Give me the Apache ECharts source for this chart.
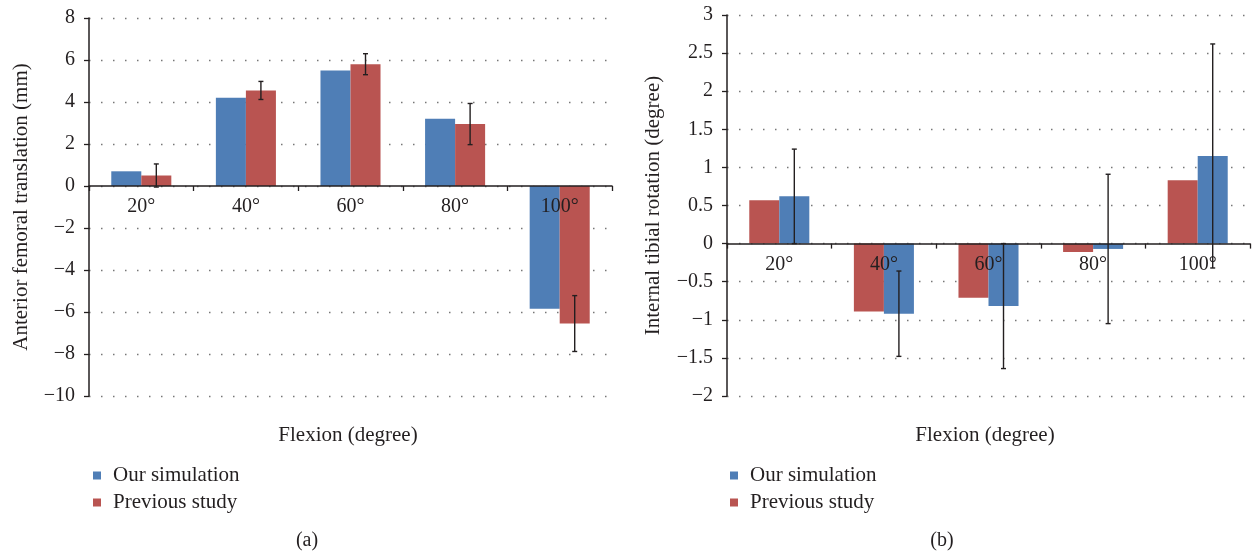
<!DOCTYPE html>
<html><head><meta charset="utf-8">
<script src="https://cdn.jsdelivr.net/npm/echarts@6/dist/echarts.min.js"></script>
<style>html,body{margin:0;padding:0;background:#fff}#c{width:1253px;height:554px}</style>
</head><body><div id="c"></div>
<script>
const categories = ['20°','40°','60°','80°','100°'];
// (a) Anterior femoral translation (mm)
const leftSim = [0.7, 4.2, 5.5, 3.2, -5.85];
const leftPrev = [0.5, 4.55, 5.8, 2.95, -6.55];
const leftPrevErr = [0.55, 0.43, 0.5, 0.98, 1.33];
const leftTicks = [-10, -8, -6, -4, -2, 0, 2, 4, 6, 8];
// (b) Internal tibial rotation (degree)
const rightPrev = [0.57, -0.89, -0.71, -0.11, 0.83];
const rightSim = [0.62, -0.92, -0.82, -0.07, 1.15];
const rightSimErr = [0.62, 0.56, 0.82, 0.98, 1.47];
const rightTicks = [-2, -1.5, -1, -0.5, 0, 0.5, 1, 1.5, 2, 2.5, 3];

const BLUE = '#4f7eb6', RED = '#b95451';
const FONT = 'Liberation Serif';
const TXT = '#231f20';
const BWF = 0.287;

const grids = [
  {left:89, top:18, width:523, height:378},
  {left:727, top:15, width:523, height:381}
];

const chart = echarts.init(document.getElementById('c'), null, {renderer:'canvas'});

function fmt(v){ return String(v).replace('-', '\u2212'); }

function yAxis(idx, ticks, name, gap){
  return {
    gridIndex: idx, type:'value',
    min: ticks[0], max: ticks[ticks.length-1], interval: ticks[1]-ticks[0],
    name: name, nameLocation:'middle', nameGap: gap,
    nameTextStyle:{fontFamily:FONT, fontSize:21, color:TXT},
    axisLine:{show:true, lineStyle:{color:'#231f20', width:1.5}},
    axisTick:{show:true, length:5, lineStyle:{color:'#231f20', width:1.3}},
    axisLabel:{fontFamily:FONT, fontSize:20, color:TXT, margin:14, formatter: fmt},
    splitLine:{show:true, lineStyle:{type:[1.5,10.5], color:'#777', width:1.3}}
  };
}
function xAxis(idx, ticks){
  // place the category axis at value 0 of the value axis
  const lo = ticks[0], hi = ticks[ticks.length-1];
  const off = -grids[idx].height * (0 - lo) / (hi - lo);
  return {
    gridIndex: idx, type:'category', data: categories, z: 4,
    position:'bottom', offset: off,
    axisLine:{show:true, onZero:false, lineStyle:{color:'#231f20', width:1.5}},
    axisTick:{show:true, length:5, inside:false, lineStyle:{color:'#231f20', width:1.3}},
    axisLabel:{fontFamily:FONT, fontSize:20, color:TXT, margin:11},
    splitLine:{show:false}
  };
}
function errSeries(xi, vals, errs){
  return {
    type:'custom', name:'err'+xi, xAxisIndex: xi, yAxisIndex: xi, z: 6,
    data: categories.map((c,i)=>[i, vals[i], errs[i]]),
    renderItem: function(params, api){
      const i = api.value(0), v = api.value(1), e = api.value(2);
      const band = api.size([1,0])[0];
      const off = band*BWF/2;
      const t = api.coord([i, v+e]), b = api.coord([i, v-e]);
      const x = t[0] + off, cap = 2.5;
      const st = {stroke:'#231f20', lineWidth:1.4};
      return {type:'group', children:[
        {type:'line', shape:{x1:x, y1:t[1], x2:x, y2:b[1]}, style:st},
        {type:'line', shape:{x1:x-cap, y1:t[1], x2:x+cap, y2:t[1]}, style:st},
        {type:'line', shape:{x1:x-cap, y1:b[1], x2:x+cap, y2:b[1]}, style:st}
      ]};
    }
  };
}
function bar(xi, name, vals, color){
  return {type:'bar', name:name, xAxisIndex:xi, yAxisIndex:xi, data: vals,
    barWidth: (BWF*100)+'%', barGap:'0%', itemStyle:{color:color}, z:2};
}
function legend(left){
  return {orient:'vertical', left:left, top:460, itemWidth:8, itemHeight:8, itemGap:6,
    icon:'rect', data:['Our simulation','Previous study'],
    textStyle:{fontFamily:FONT, fontSize:21, color:TXT, padding:[0,0,0,7]}, selectedMode:false};
}

chart.setOption({
  animation:false,
  backgroundColor:'#fff',
  grid: grids,
  xAxis:[xAxis(0, leftTicks), xAxis(1, rightTicks)],
  yAxis:[yAxis(0, leftTicks, 'Anterior femoral translation (mm)', 57),
         yAxis(1, rightTicks, 'Internal tibial rotation (degree)', 63)],
  legend:[legend(88), legend(725)],
  series:[
    bar(0, 'Our simulation', leftSim, BLUE),
    bar(0, 'Previous study', leftPrev, RED),
    errSeries(0, leftPrev, leftPrevErr),
    bar(1, 'Previous study', rightPrev, RED),
    bar(1, 'Our simulation', rightSim, BLUE),
    errSeries(1, rightSim, rightSimErr)
  ],
  graphic:[
    {type:'text', style:{text:'Flexion (degree)', font:'21px '+FONT, fill:TXT, x:348, y:435, align:'center', verticalAlign:'middle'}},
    {type:'text', style:{text:'Flexion (degree)', font:'21px '+FONT, fill:TXT, x:985, y:435, align:'center', verticalAlign:'middle'}},
    {type:'text', style:{text:'(a)', font:'20px '+FONT, fill:TXT, x:307, y:541, align:'center', verticalAlign:'middle'}},
    {type:'text', style:{text:'(b)', font:'20px '+FONT, fill:TXT, x:942, y:541, align:'center', verticalAlign:'middle'}}
  ]
});
</script></body></html>
